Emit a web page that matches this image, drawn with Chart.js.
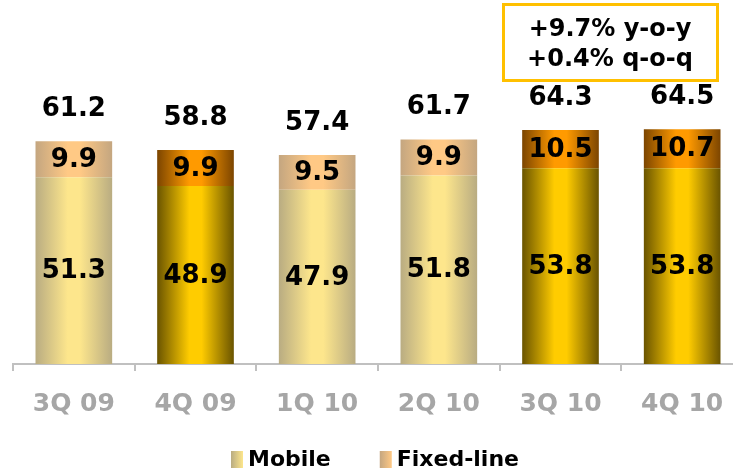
<!DOCTYPE html>
<html>
<head>
<meta charset="utf-8">
<script src="https://cdn.jsdelivr.net/npm/chart.js@4"></script>
<style>
  html, body { margin: 0; padding: 0; background: #fff; overflow: hidden; }
  #wrap { width: 743px; height: 472px; position: relative; }
</style>
</head>
<body>
<div id="wrap"><canvas id="revenueChart"></canvas></div>
<script>
// Chart data
const quarters = ["3Q 09", "4Q 09", "1Q 10", "2Q 10", "3Q 10", "4Q 10"];
const mobile = [51.3, 48.9, 47.9, 51.8, 53.8, 53.8];
const fixedLine = [9.9, 9.9, 9.5, 9.9, 10.5, 10.7];
const totals = [61.2, 58.8, 57.4, 61.7, 64.3, 64.5];
const growthNotes = ["+9.7% y-o-y", "+0.4% q-o-q"];
const seriesNames = ["Mobile", "Fixed-line"];

// Styling
const FONT = "'DejaVu Sans', Verdana, sans-serif";
const BAR_PCT = 0.63;
const darkQuarters = [1, 4, 5];   // bars drawn with the deep gold look
const palette = {
  mobile: { pale: ["#b9ac82", "#fde68c"], dark: ["#6a5400", "#ffcc00"] },
  fixed:  { pale: ["#c4a680", "#ffc985"], dark: ["#7c4500", "#ff9a00"] }
};

function gradientFor(kind, ctx) {
  const chart = ctx.chart;
  const x = chart.scales.x;
  const dark = darkQuarters.includes(ctx.dataIndex);
  const cols = dark ? palette[kind].dark : palette[kind].pale;
  if (!chart.chartArea || !x || ctx.dataIndex === undefined) return cols[1];
  const center = x.getPixelForValue(ctx.dataIndex);
  const half = x.width / quarters.length * BAR_PCT / 2;
  const g = chart.ctx.createLinearGradient(center - half, 0, center + half, 0);
  g.addColorStop(0, cols[0]);
  g.addColorStop(0.42, cols[1]);
  g.addColorStop(0.58, cols[1]);
  g.addColorStop(1, cols[0]);
  return g;
}

// Value labels inside bars + totals above
const labelPlugin = {
  id: "valueLabels",
  afterDatasetsDraw(chart) {
    const ctx = chart.ctx;
    ctx.save();
    ctx.font = "bold 26px " + FONT;
    ctx.fillStyle = "#000";
    ctx.textAlign = "center";
    ctx.textBaseline = "middle";
    chart.data.datasets.forEach((ds, di) => {
      chart.getDatasetMeta(di).data.forEach((bar, i) => {
        ctx.fillText(ds.data[i].toFixed(1), bar.x, (bar.y + bar.base) / 2 + 1);
      });
    });
    const top = chart.getDatasetMeta(chart.data.datasets.length - 1).data;
    top.forEach((bar, i) => {
      ctx.fillText(totals[i].toFixed(1), bar.x, bar.y - 32);
    });
    ctx.restore();
  }
};

// Growth box and legend
const extrasPlugin = {
  id: "extras",
  afterDraw(chart) {
    const ctx = chart.ctx;
    ctx.save();
    // growth box
    ctx.strokeStyle = "#ffc000";
    ctx.lineWidth = 3;
    ctx.strokeRect(503.5, 4.5, 214, 76);
    ctx.fillStyle = "#000";
    ctx.font = "bold 24px " + FONT;
    ctx.textAlign = "center";
    ctx.textBaseline = "middle";
    ctx.fillText(growthNotes[0], 610, 30);
    ctx.fillText(growthNotes[1], 610, 60);

    // legend
    ctx.font = "bold 22px " + FONT;
    ctx.textAlign = "left";
    let lx = 231;
    const ly = 459;
    const swatches = [palette.mobile.pale, palette.fixed.pale];
    seriesNames.forEach((name, i) => {
      const g = ctx.createLinearGradient(lx, 0, lx + 12, 0);
      g.addColorStop(0, swatches[i][0]);
      g.addColorStop(1, swatches[i][1]);
      ctx.fillStyle = g;
      ctx.fillRect(lx, ly - 8, 12, 17);
      ctx.fillStyle = "#000";
      ctx.fillText(name, lx + 17, ly + 1);
      lx += 17 + ctx.measureText(name).width + 49;
    });
    ctx.restore();
  }
};

const chart = new Chart(document.getElementById("revenueChart"), {
  type: "bar",
  data: {
    labels: quarters,
    datasets: [
      {
        label: seriesNames[0],
        data: mobile,
        backgroundColor: ctx => gradientFor("mobile", ctx),
        barPercentage: BAR_PCT,
        categoryPercentage: 1
      },
      {
        label: seriesNames[1],
        data: fixedLine,
        backgroundColor: ctx => gradientFor("fixed", ctx),
        barPercentage: BAR_PCT,
        categoryPercentage: 1
      }
    ]
  },
  options: {
    responsive: true,
    maintainAspectRatio: false,
    animation: false,
    layout: { padding: { left: 13, right: 0, top: 0, bottom: 35 } },
    plugins: {
      legend: { display: false },
      tooltip: { enabled: false }
    },
    scales: {
      x: {
        stacked: true,
        grid: {
          offset: true,
          drawOnChartArea: false,
          drawTicks: true,
          tickLength: 7,
          color: "#c0c0c0",
          lineWidth: 2
        },
        border: { display: true, color: "#c0c0c0", width: 2 },
        ticks: {
          color: "#a6a6a6",
          padding: 18,
          font: { family: FONT, size: 25, weight: "bold" }
        }
      },
      y: {
        stacked: true,
        display: false,
        min: 0,
        max: 100
      }
    }
  },
  plugins: [labelPlugin, extrasPlugin]
});
</script>
</body>
</html>
